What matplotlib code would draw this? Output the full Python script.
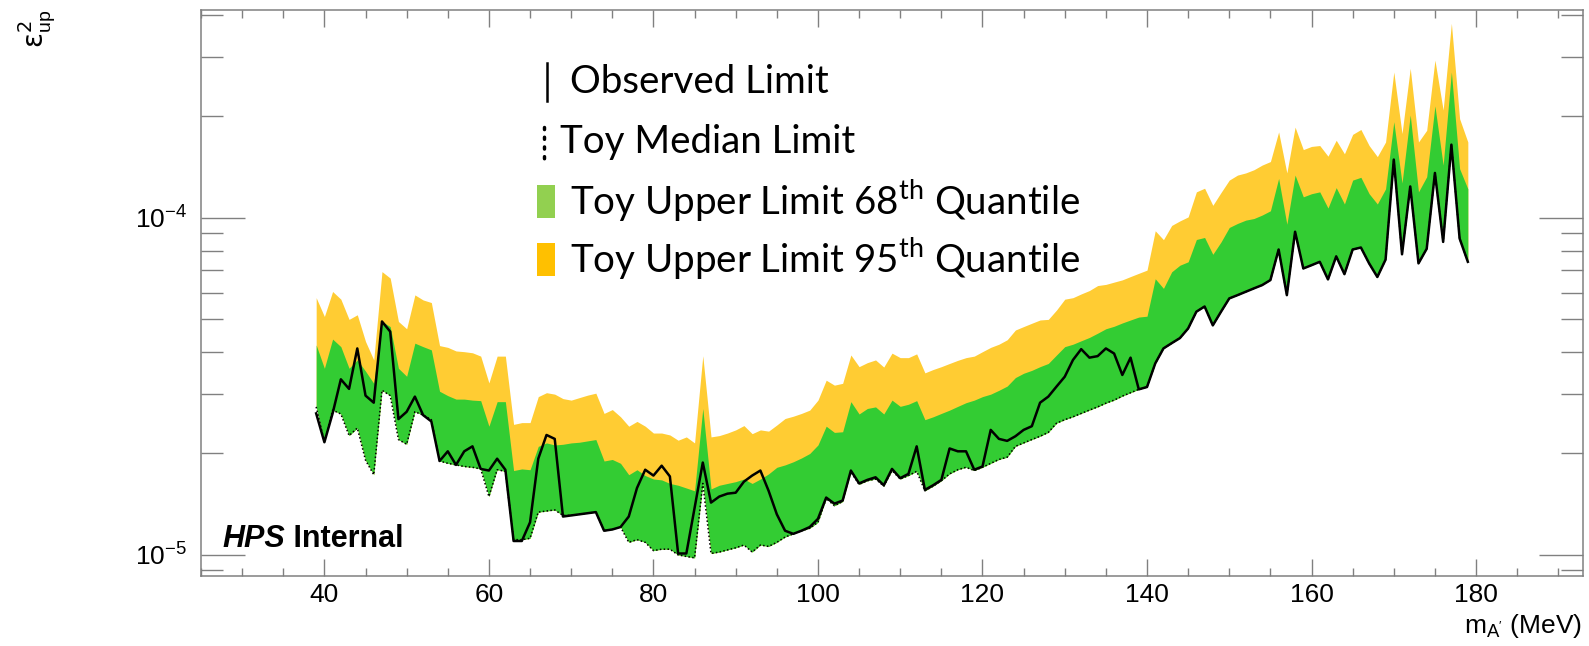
import numpy as np
import matplotlib
matplotlib.use('Agg')
import matplotlib.pyplot as plt
from matplotlib.lines import Line2D
from matplotlib.patches import Rectangle
from matplotlib.ticker import LogLocator, MultipleLocator, NullFormatter

# A' mass points (MeV)
mass = np.arange(39, 180)

# limits on epsilon^2, in units of 1e-5
upper95 = [5.8, 5.1, 6.05, 5.74, 5.0, 5.16, 4.3, 3.79, 6.93, 6.63,
           4.93, 4.69, 5.91, 5.71, 5.61, 4.18, 4.13, 4.03, 4.01, 3.98,
           3.89, 3.24, 3.89, 3.89, 2.44, 2.47, 2.47, 2.95, 3.03, 3.0,
           2.91, 2.88, 2.93, 2.98, 3.02, 2.63, 2.70, 2.57, 2.41, 2.49,
           2.41, 2.3, 2.3, 2.27, 2.19, 2.24, 2.15, 3.9, 2.24, 2.26,
           2.30, 2.35, 2.42, 2.29, 2.35, 2.33, 2.43, 2.54, 2.58, 2.63,
           2.69, 2.88, 3.30, 3.19, 3.23, 3.92, 3.62, 3.72, 3.79, 3.61,
           3.97, 3.85, 3.85, 3.95, 3.47, 3.55, 3.62, 3.70, 3.78, 3.85,
           3.89, 4.01, 4.13, 4.22, 4.35, 4.65, 4.76, 4.87, 4.98, 5.0,
           5.33, 5.74, 5.80, 5.95, 6.09, 6.3, 6.35, 6.45, 6.55, 6.7,
           6.85, 7.0, 9.16, 8.62, 9.5, 9.8, 10.07, 11.95, 12.25, 10.9,
           11.9, 12.95, 13.4, 13.6, 13.9, 14.35, 14.7, 18.0, 13.6, 18.6,
           15.95, 16.3, 16.4, 15.25, 17.0, 15.5, 17.7, 18.3, 16.4, 15.2,
           16.8, 27.1, 17.8, 27.8, 16.8, 18.2, 29.4, 20.9, 37.8, 19.7,
           16.8]

upper68 = [4.2, 3.58, 4.37, 4.15, 3.58, 3.79, 3.51, 3.23, 4.93, 4.76,
           3.58, 3.39, 4.25, 4.15, 4.06, 3.06, 2.97, 2.90, 2.90, 2.88,
           2.87, 2.41, 2.85, 2.85, 1.78, 1.80, 1.79, 2.10, 2.15, 2.12,
           2.13, 2.15, 2.16, 2.18, 2.20, 1.90, 1.92, 1.87, 1.73, 1.79,
           1.72, 1.68, 1.67, 1.63, 1.61, 1.58, 1.55, 2.72, 1.57, 1.61,
           1.63, 1.65, 1.68, 1.63, 1.68, 1.74, 1.82, 1.85, 1.89, 1.94,
           2.0, 2.12, 2.41, 2.31, 2.32, 2.85, 2.62, 2.72, 2.75, 2.62,
           2.88, 2.76, 2.80, 2.87, 2.52, 2.57, 2.63, 2.69, 2.76, 2.83,
           2.88, 2.95, 3.0, 3.08, 3.17, 3.36, 3.46, 3.53, 3.62, 3.70,
           3.92, 4.15, 4.22, 4.32, 4.42, 4.55, 4.69, 4.77, 4.88, 4.98,
           5.08, 5.11, 6.6, 6.18, 6.92, 7.24, 7.41, 8.63, 8.75, 7.8,
           8.49, 9.37, 9.63, 9.85, 9.96, 10.2, 10.5, 13.1, 9.58, 13.4,
           11.55, 11.8, 11.95, 10.7, 12.3, 11.0, 12.95, 13.2, 11.8, 11.0,
           12.2, 19.3, 12.7, 20.2, 11.95, 13.25, 21.5, 14.35, 27.1, 14.0,
           12.2]

median = [2.75, 2.16, 2.69, 2.62, 2.26, 2.38, 1.91, 1.73, 3.08, 2.97,
          2.20, 2.13, 2.66, 2.60, 2.52, 1.90, 1.87, 1.85, 1.83, 1.82,
          1.80, 1.49, 1.79, 1.77, 1.11, 1.11, 1.12, 1.34, 1.35, 1.36,
          1.31, 1.31, 1.32, 1.33, 1.34, 1.18, 1.19, 1.21, 1.09, 1.11,
          1.09, 1.03, 1.04, 1.04, 1.0, 0.99, 0.98, 1.63, 1.01, 1.02,
          1.035, 1.05, 1.07, 1.02, 1.07, 1.06, 1.09, 1.13, 1.155, 1.18,
          1.2, 1.25, 1.47, 1.40, 1.44, 1.76, 1.62, 1.66, 1.68, 1.60,
          1.78, 1.68, 1.72, 1.77, 1.55, 1.60, 1.66, 1.74, 1.79, 1.82,
          1.78, 1.82, 1.87, 1.92, 1.95, 2.10, 2.15, 2.20, 2.25, 2.31,
          2.46, 2.52, 2.57, 2.63, 2.69, 2.75, 2.82, 2.88, 2.96, 3.03,
          3.10, 3.15, 3.7, 4.1, 4.25, 4.4, 4.7, 5.27, 5.46, 4.80,
          5.27, 5.77, 5.9, 6.04, 6.18, 6.32, 6.54, 8.06, 5.9, 9.1,
          7.08, 7.24, 7.41, 6.57, 7.69, 6.81, 8.06, 8.17, 7.33, 6.68,
          7.52, 14.9, 7.8, 12.4, 7.33, 8.1, 13.6, 8.49, 16.5, 8.69,
          7.41]

observed = [2.63, 2.16, 2.63, 3.32, 3.11, 4.10, 2.97, 2.83, 4.93, 4.60,
            2.53, 2.66, 2.95, 2.60, 2.49, 1.90, 2.03, 1.85, 2.03, 2.10,
            1.80, 1.78, 1.93, 1.79, 1.10, 1.10, 1.25, 1.93, 2.27, 2.21,
            1.30, 1.31, 1.32, 1.33, 1.34, 1.18, 1.19, 1.21, 1.30, 1.58,
            1.79, 1.72, 1.84, 1.71, 1.01, 1.01, 1.38, 1.88, 1.43, 1.49,
            1.52, 1.53, 1.65, 1.72, 1.78, 1.55, 1.32, 1.18, 1.155, 1.18,
            1.21, 1.28, 1.48, 1.42, 1.45, 1.78, 1.63, 1.67, 1.70, 1.61,
            1.80, 1.69, 1.74, 2.10, 1.56, 1.61, 1.67, 2.07, 2.03, 2.03,
            1.79, 1.83, 2.35, 2.21, 2.18, 2.25, 2.35, 2.41, 2.83, 2.95,
            3.16, 3.38, 3.79, 4.08, 3.85, 3.89, 4.10, 3.96, 3.42, 3.85,
            3.10, 3.15, 3.7, 4.1, 4.25, 4.4, 4.7, 5.27, 5.46, 4.80,
            5.27, 5.77, 5.9, 6.04, 6.18, 6.32, 6.54, 8.06, 5.9, 9.1,
            7.08, 7.24, 7.41, 6.57, 7.69, 6.81, 8.06, 8.17, 7.33, 6.68,
            7.52, 14.9, 7.8, 12.4, 7.33, 8.1, 13.6, 8.49, 16.5, 8.69,
            7.41]

scale = 1e-5
upper95 = np.array(upper95) * scale
upper68 = np.array(upper68) * scale
median = np.array(median) * scale
observed = np.array(observed) * scale

plt.rcParams['font.family'] = 'Liberation Sans'

W, H = 1589, 646
fig = plt.figure(figsize=(W / 100, H / 100), dpi=100)
ax = fig.add_axes([201 / W, 1 - 576 / H, (1583 - 201) / W, (576 - 10) / H])


def fpx(x, y):
    # pixel position -> figure fraction
    return x / W, 1 - y / H


# bands
ax.fill_between(mass, median, upper95, color='#FFCC33', lw=0)
ax.fill_between(mass, median, upper68, color='#33CC33', lw=0)
ax.plot(mass, median, color='black', lw=1.1, ls=(0, (1, 1.5)))
ax.plot(mass, observed, color='black', lw=1.8)

ax.set_yscale('log')
ax.set_xlim(25, 193)
ax.set_ylim(8.66e-6, 4.14e-4)

ax.xaxis.set_major_locator(MultipleLocator(20))
ax.xaxis.set_minor_locator(MultipleLocator(5))
ax.yaxis.set_major_locator(LogLocator(base=10))
ax.yaxis.set_minor_locator(LogLocator(base=10, subs=np.arange(2, 10)))
ax.yaxis.set_minor_formatter(NullFormatter())

gray = '#808080'
for s in ax.spines.values():
    s.set_color(gray)
    s.set_linewidth(1.1)
ax.tick_params(axis='both', which='both', direction='in', top=True, right=True,
               color=gray, width=1.0, labelsize=19)
ax.tick_params(axis='x', which='major', length=12, pad=5)
ax.tick_params(axis='x', which='minor', length=6)
ax.tick_params(axis='y', which='major', length=32, pad=10)
ax.tick_params(axis='y', which='minor', length=16)

# axis titles
fig.text(*fpx(1582, 633), r"m$_{\mathregular{A'}}$ (MeV)", ha='right', va='baseline', fontsize=19)
fig.text(*fpx(37, 10), r'$\mathrm{\epsilon}^{2}_{\mathregular{up}}$', rotation=90,
         ha='center', va='top', fontsize=20)

# label
t1 = fig.text(*fpx(222, 547), 'HPS', fontsize=22, fontweight='bold', fontstyle='italic',
              va='baseline')
fig.canvas.draw()
bb = t1.get_window_extent()
fig.text(bb.x1 / W, 1 - 547 / H, ' Internal', fontsize=22, fontweight='bold', va='baseline')

# legend
leg_font = dict(family='Lato', fontsize=27.7, va='center', ha='left')
fig.text(*fpx(570, 82), 'Observed Limit', **leg_font)
fig.text(*fpx(560, 142), 'Toy Median Limit', **leg_font)
fig.text(*fpx(570, 200), r'Toy Upper Limit 68$^{\mathregular{th}}$ Quantile', **leg_font)
fig.text(*fpx(570, 258), r'Toy Upper Limit 95$^{\mathregular{th}}$ Quantile', **leg_font)

x0, y0 = fpx(547, 63)
x1, y1 = fpx(547, 101)
fig.add_artist(Line2D([x0, x1], [y0, y1], color='black', lw=1.8))
x0, y0 = fpx(544, 127)
x1, y1 = fpx(544, 159)
fig.add_artist(Line2D([x0, x1], [y0, y1], color='black', lw=2.5, ls=(0, (0.6, 2.2)),
                      dash_capstyle='round'))
for top, col in [(185, '#92D050'), (243, '#FFC000')]:
    x0, y0 = fpx(537, top + 33)
    fig.add_artist(Rectangle((x0, y0), 18 / W, 33 / H, color=col, lw=0,
                             transform=fig.transFigure))

fig.savefig('out.png', dpi=100)
